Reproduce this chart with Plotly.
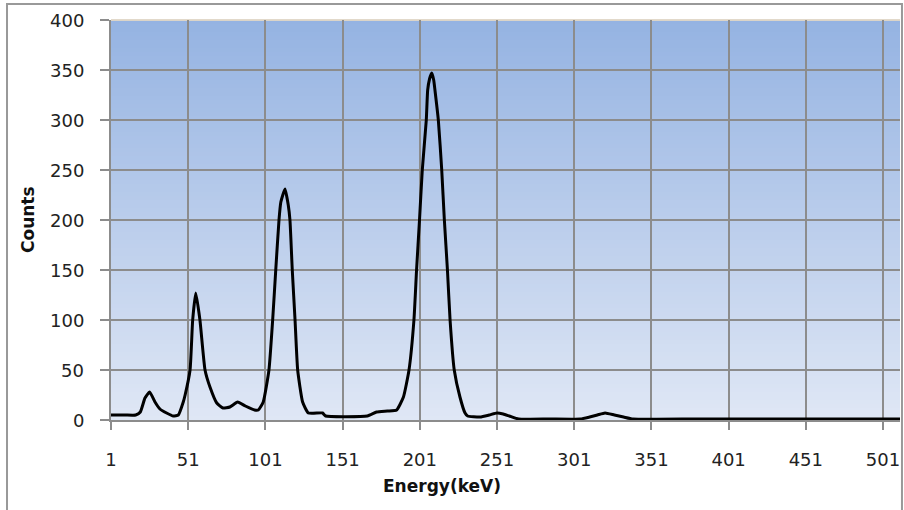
import plotly.graph_objects as go

# Gamma spectrum: energy (keV) vs counts
energy_kev = [1, 10, 17, 20, 23, 26, 29.5, 32.7, 37, 41.3, 44.6, 47.8, 49, 52.2, 53.9,
              55.9, 58.6, 61.9, 65.1, 69.5, 73.5, 78, 83, 88, 94, 96.4, 99.6, 103.3,
              105.7, 107.7, 109.8, 111, 113.7, 115.8, 116.9, 118.4, 120.2, 121.9, 125.1, 128.8,
              138, 140, 167, 173, 180, 186, 190.4, 194, 197.2, 198.9, 200.8, 202.6,
              205.2, 206.1, 207.3, 208.7, 210, 210.8, 213, 215.2, 216.9, 218.9, 220.6, 223.3, 227,
              230.3, 232, 240, 246, 251, 255, 259, 265, 285, 305, 311, 316, 321, 327, 333,
              339, 380, 430, 480, 512]
counts = [5, 5, 5, 8, 22, 28, 18, 11, 7, 4, 5, 18, 25, 50, 100,
          127, 100, 50, 33, 17, 12, 13, 18, 14, 10, 10, 18, 50,
          100, 150, 200, 218, 231, 215, 200, 150, 100, 50, 18, 7,
          7, 4, 4, 8, 9, 10, 23, 50, 100, 150, 200, 250,
          300, 330, 341, 347, 340, 330, 300, 250, 200, 150, 100, 50, 23,
          7, 4, 3, 5, 7, 6, 4, 1, 1, 1, 3, 5, 7, 5, 3,
          1, 1, 1, 1, 1]

x_tick_vals = [1, 51, 101, 151, 201, 251, 301, 351, 401, 451, 501]
x_tick_text = ["1", "51", "101", "151", "201", "251", "301", "351", "401", "451", "501"]
y_tick_vals = [0, 50, 100, 150, 200, 250, 300, 350, 400]
y_tick_text = ["0", "50", "100", "150", "200", "250", "300", "350", "400"]

GRID = "#8c8c8c"
TICK_FONT = dict(family="DejaVu Sans", size=18, color="#222222")
TITLE_FONT = dict(family="DejaVu Sans", size=17, color="#111111")

PLOT_LEFT, PLOT_W = 111, 789

fig = go.Figure()
fig.add_trace(go.Scatter(
    x=energy_kev, y=counts, mode="lines",
    line=dict(color="black", width=3, shape="spline", smoothing=0.45),
    showlegend=False, hoverinfo="skip",
))

# vertical gradient fill of the plot area (blue at top fading to pale blue)
top_rgb = (149, 179, 226)
bot_rgb = (223, 231, 245)
n_strips = 100
shapes = []
for i in range(n_strips):
    t = i / (n_strips - 1)
    r, g, b = (round(bot_rgb[k] + (top_rgb[k] - bot_rgb[k]) * t) for k in range(3))
    shapes.append(dict(
        type="rect", xref="x domain", yref="y domain",
        x0=0, x1=1, y0=i / n_strips, y1=(i + 1) / n_strips + 0.002,
        fillcolor=f"rgb({r},{g},{b})", line=dict(width=0), layer="below",
    ))

# light frame along the top of the plot area
shapes.append(dict(type="line", xref="x domain", yref="y domain",
                   x0=0, x1=1, y0=1, y1=1, line=dict(color="#f3dfbf", width=1.5),
                   layer="below"))
# outer chart border
shapes.append(dict(type="rect", xref="paper", yref="paper",
                   x0=-0.1318, x1=1.0025, y0=-0.25, y1=1.04,
                   line=dict(color="#999999", width=2), fillcolor="rgba(0,0,0,0)",
                   layer="below"))

# y tick labels, right-aligned a fixed distance left of the axis
annotations = [
    dict(text=txt, xref="paper", yref="y", x=-(PLOT_LEFT - 86) / PLOT_W, y=val,
         xanchor="right", yanchor="middle", showarrow=False, font=TICK_FONT)
    for val, txt in zip(y_tick_vals, y_tick_text)
]
annotations += [
    dict(text="<b>Energy(keV)</b>", xref="paper", yref="paper",
         x=(442 - PLOT_LEFT) / PLOT_W, y=-(486 - 420) / 400, showarrow=False,
         xanchor="center", yanchor="middle", font=TITLE_FONT),
    dict(text="<b>Counts</b>", xref="paper", yref="paper",
         x=-(PLOT_LEFT - 28) / PLOT_W, y=0.5, showarrow=False, textangle=-90,
         xanchor="center", yanchor="middle", font=TITLE_FONT),
]

fig.update_layout(
    width=904, height=510,
    margin=dict(l=PLOT_LEFT, r=4, t=20, b=90),
    paper_bgcolor="white",
    plot_bgcolor="rgb(190,205,235)",
    shapes=shapes,
    xaxis=dict(
        range=[1, 512], tickmode="array", tickvals=x_tick_vals, ticktext=x_tick_text,
        showgrid=True, gridcolor=GRID, gridwidth=1.5,
        ticks="outside", ticklen=8, tickcolor=GRID, tickwidth=1.5,
        showline=True, linecolor=GRID, linewidth=1.5,
        tickfont=TICK_FONT, ticklabelstandoff=15, zeroline=False,
    ),
    yaxis=dict(
        range=[0, 400], tickmode="array", tickvals=y_tick_vals,
        showgrid=True, gridcolor=GRID, gridwidth=1.5,
        ticks="outside", ticklen=9, tickcolor=GRID, tickwidth=1.5,
        showline=True, linecolor=GRID, linewidth=1.5,
        showticklabels=False, zeroline=False,
    ),
    annotations=annotations,
)

fig.write_html("out.html")
